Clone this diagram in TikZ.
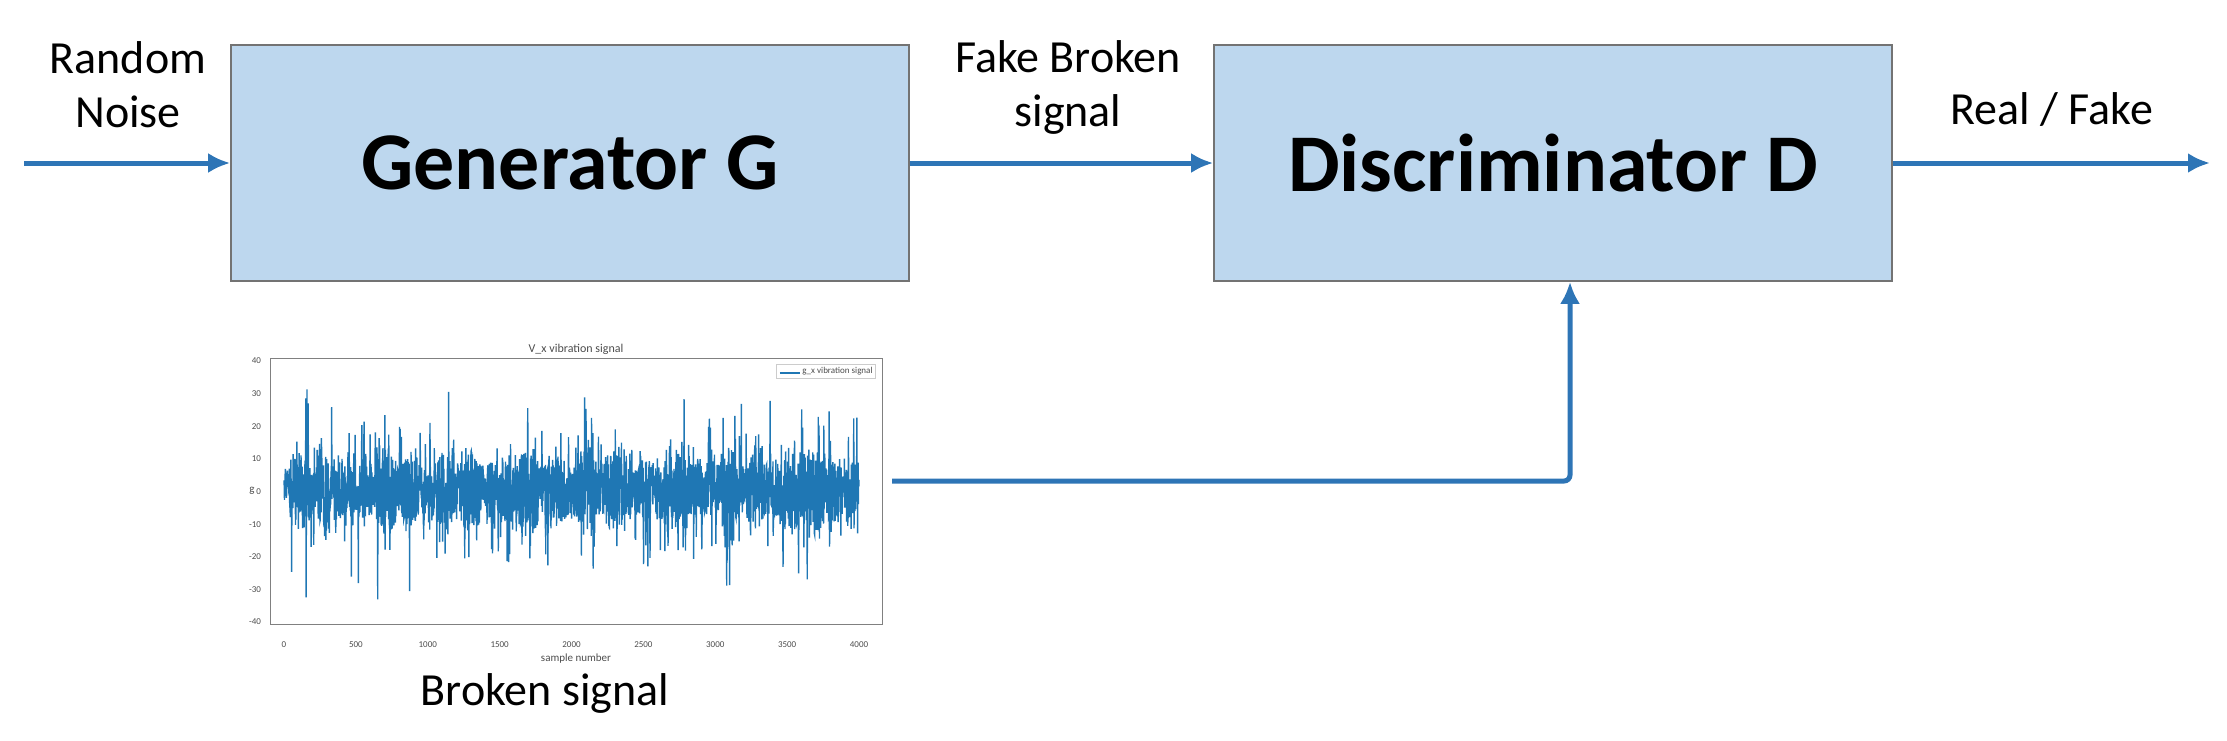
\documentclass[tikz,border=0pt]{standalone}
\usepackage{fontspec}
\setmainfont{Carlito}
\usetikzlibrary{arrows.meta}
\definecolor{sig}{RGB}{31,119,180}
\definecolor{arrc}{RGB}{46,117,182}
\definecolor{boxf}{RGB}{189,215,238}
\begin{document}
\begin{tikzpicture}[x=0.5pt,y=-0.5pt,
  blk/.style={draw=black!55,line width=0.8pt,fill=boxf,minimum width=339pt,minimum height=118pt,font=\fontsize{41}{46}\selectfont\bfseries},
  arr/.style={draw=arrc,line width=2.5pt,-{Latex[length=11pt,width=10pt]}},
  lbl/.style={font=\fontsize{23}{27}\selectfont,align=center},
  tk/.style={font=\fontsize{4.5}{5}\selectfont,text=black!70}]
\useasboundingbox (0,0) rectangle (2227,740);
\node[blk] (G) at (570,163) {Generator G};
\node[blk] (D) at (1553,163) {Discriminator D};
\coordinate (in) at (24,163);
\coordinate (out) at (2210,163);
\draw[arr] (in) -- (G.west);
\draw[arr] (G.east) -- (D.west);
\draw[arr] (D.east) -- (out);
\node[lbl] (rn) at (128,85) {Random\\Noise};
\node[lbl] (fb) at (1068,87) {Fake Broken\\signal};
\node[lbl] (rf) at (2052,110) {Real / Fake};
% plot
\node[draw=black!50,line width=0.4pt,minimum width=306pt,minimum height=133pt,inner sep=0] (P) at (576,491) {};
\node[tk,font=\fontsize{6}{7}\selectfont] (tt) at (576,349) {V\_x vibration signal};
\node[tk,font=\fontsize{5.5}{6}\selectfont] (xl) at (576,659) {sample number};
\node[tk,font=\fontsize{5.5}{6}\selectfont] (yl) at (252,491) {g};
\foreach \v in {0,500,...,4000}{
  \node[tk] (xt\v) at ({284+0.14375*\v},645) {\v};}
\foreach \v in {-40,-30,...,40}{
  \node[tk,anchor=east] (yt\v) at (268,{491.5-3.26*\v}) {\v};}
\begin{scope}
\clip (271,359) rectangle (882,624);
\pgfmathsetseed{11}
\draw[sig,line width=0.7pt] plot[domain=0:4000,samples=2400]
 ({284+0.14375*\x},{491.5-3.26*(rand*(7+7*abs(sin(\x*0.9))*abs(sin(\x*0.37))+24*rnd^8))});
\end{scope}
\node[draw=black!20,fill=white,inner sep=1.5pt,anchor=north east,tk,font=\fontsize{4.5}{5}\selectfont] (lg) at (876,364) {\tikz[x=1pt,y=1pt]\draw[sig,line width=0.6pt] (0,0)--(10,0); g\_x vibration signal};
\coordinate (bend) at (1570,481);
\coordinate (ps) at (892,481);
\draw[arr,rounded corners=3pt] (ps) -- (bend) -- (bend |- D.south);
\node[lbl] (bs) at (545,693) {Broken signal};
\end{tikzpicture}
\end{document}
